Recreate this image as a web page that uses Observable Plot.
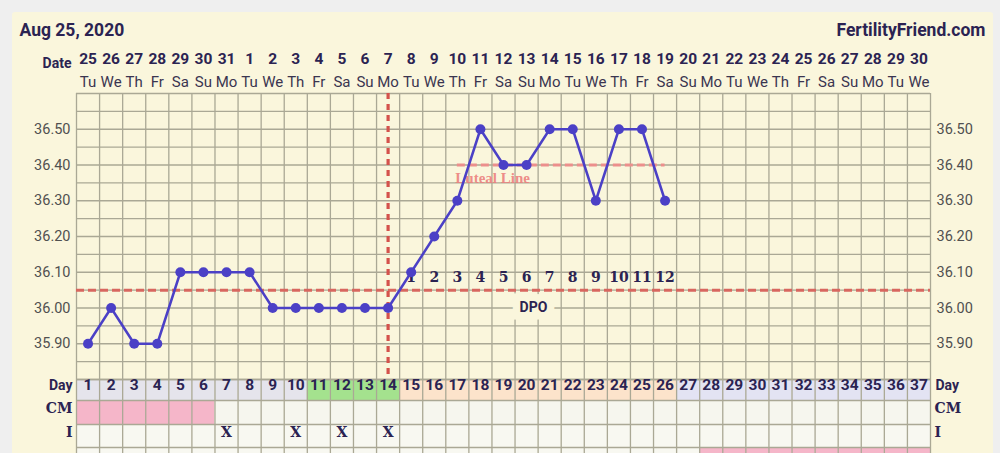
<!DOCTYPE html>
<html>
<head>
<meta charset="utf-8">
<script src="https://cdn.jsdelivr.net/npm/d3@7"></script>
<script src="https://cdn.jsdelivr.net/npm/@observablehq/plot@0.6"></script>
<style>
  html, body { margin: 0; padding: 0; background: #efefef; }
  #wrap { position: relative; width: 1000px; height: 453px; overflow: hidden; }
  #panel { position: absolute; left: 12px; top: 12px; width: 981px; height: 460px; background: #faf6dc; border-radius: 3px; }
  #chart { position: absolute; left: 0; top: 0; }
</style>
</head>
<body>
<div id="wrap"><div id="panel"></div><div id="chart"></div></div>
<script>
// ---- data ----
const title = "Aug 25, 2020";
const brand = "FertilityFriend.com";
const dates = [25,26,27,28,29,30,31,1,2,3,4,5,6,7,8,9,10,11,12,13,14,15,16,17,18,19,20,21,22,23,24,25,26,27,28,29,30];
const weekdayCycle = ["Tu","We","Th","Fr","Sa","Su","Mo"];
const cycleDays = dates.map((d, i) => i + 1);
const temps = [35.90,36.00,35.90,35.90,36.10,36.10,36.10,36.10,36.00,36.00,36.00,36.00,36.00,36.00,36.10,36.20,36.30,36.50,36.40,36.40,36.50,36.50,36.30,36.50,36.50,36.30];
const yTickLabels = ["35.90","36.00","36.10","36.20","36.30","36.40","36.50"];
const coverline = 36.05;
const ovulationDay = 14;
const lutealLevel = 36.40;
const lutealRange = [17, 26];
const fertileDays = [11,12,13,14];
const firstDpoDay = 15;
const lastTempDay = 26;
const cmPinkDays = [1,2,3,4,5,6];
const intercourseDays = [7,10,12,14];
const bottomPinkDays = [28,29,30,31,32,33,34,35,36,37];

// ---- layout / scale helpers ----
const W = 1000, H = 453;
const mL = 76, mR = 70, mT = 93, mB = 74;
const yDom = [35.8, 36.6];
const pxPerDeg = (H - mB - mT) / (yDom[1] - yDom[0]);
const pxToY = px => yDom[0] - (px - (H - mB)) / pxPerDeg;
const rowEdgesPx = [379, 400, 424, 447, 475];
const rowY = rowEdgesPx.map(pxToY);

const navy = "#2b2352";
const sans = "Roboto, 'Noto Sans', sans-serif";
const serif = "'DejaVu Serif', 'Liberation Serif', serif";
const gridColor = "#aaa895";

const tempData = temps.map((t, i) => ({day: i + 1, t}));
const dayPhase = d => fertileDays.includes(d) ? "#a4e28e" : (d >= firstDpoDay && d <= lastTempDay) ? "#fce3cb" : d > lastTempDay ? "#e3e3f3" : "#e5e4ec";
const dpo = tempData.filter(d => d.day >= firstDpoDay).map(d => ({day: d.day, n: d.day - firstDpoDay + 1}));
const dpoMid = d3.mean(dpo, d => d.day) - 0.2;

const cells = [];
for (const d of cycleDays) {
  cells.push({day: d, row: 0, fill: dayPhase(d)});
  cells.push({day: d, row: 1, fill: cmPinkDays.includes(d) ? "#f5b6c9" : "#f6f6ee"});
  cells.push({day: d, row: 2, fill: "#f8f8f1"});
  cells.push({day: d, row: 3, fill: bottomPinkDays.includes(d) ? "#f5b6c9" : "#f8f8f1"});
}

const hLines = d3.range(0, 17).map(i => +(yDom[0] + i * 0.05).toFixed(2));
const vLines = d3.range(0, 38).map(i => i + 0.5);

const labelStyle = (font) => ({fill: navy, fontFamily: font, fontWeight: "bold", fontSize: 14});

const chart = Plot.plot({
  width: W, height: H,
  marginLeft: mL, marginRight: mR, marginTop: mT, marginBottom: mB,
  x: {domain: [0.5, 37.5], axis: null},
  y: {domain: yDom, axis: null},
  style: {background: "transparent", overflow: "visible"},
  marks: [
    // row cells
    Plot.rect(cells, {x1: d => d.day - 0.5, x2: d => d.day + 0.5, y1: d => rowY[d.row], y2: d => rowY[d.row + 1], fill: d => d.fill}),
    // grid
    Plot.ruleY(hLines, {x1: 0.5, x2: 37.5, stroke: gridColor, strokeWidth: 1.3}),
    Plot.ruleY(rowY.slice(0, 4), {x1: 0.5, x2: 37.5, stroke: gridColor, strokeWidth: 1.3}),
    Plot.ruleX(vLines, {y1: yDom[1], y2: rowY[4], stroke: gridColor, strokeWidth: 1.3}),
    // coverline
    Plot.ruleY([coverline], {x1: 0.5, x2: 37.5, stroke: "#d8675f", strokeWidth: 3, strokeDasharray: "8,4"}),
    // ovulation line
    Plot.ruleX([ovulationDay], {y1: yDom[1], y2: rowY[0] + 0.004, stroke: "#d4524c", strokeWidth: 3.2, strokeDasharray: "6,5"}),
    // luteal line
    Plot.ruleY([lutealLevel], {x1: lutealRange[0], x2: lutealRange[1], stroke: "#ec8f8c", strokeWidth: 3, strokeDasharray: "8,4"}),
    Plot.text(["Luteal Line"], {x: lutealRange[0], y: lutealLevel, dx: -2, dy: 13, textAnchor: "start", fill: "#ec7f7c", fillOpacity: 0.9, fontFamily: "'Liberation Serif', serif", fontWeight: "bold", fontSize: 15}),
    // DPO numbers and label
    Plot.text(dpo, {x: "day", y: coverline, dy: -13, text: d => String(d.n), ...labelStyle(serif)}),
    Plot.text(["DPO"], {x: dpoMid, y: coverline, dy: 17, ...labelStyle(sans), stroke: "#faf6dc", strokeWidth: 15, paintOrder: "stroke", strokeLinejoin: "miter"}),
    // temperature line & points
    Plot.line(tempData, {x: "day", y: "t", stroke: "#4b40c6", strokeWidth: 2.5}),
    Plot.dot(tempData, {x: "day", y: "t", r: 5, fill: "#4b40c6"}),
    // y tick labels
    Plot.text(yTickLabels, {x: 0.5, y: d => +d, text: d => d, dx: -6, textAnchor: "end", fill: "#505050", fontFamily: sans, fontSize: 14.5}),
    Plot.text(yTickLabels, {x: 37.5, y: d => +d, text: d => d, dx: 6, textAnchor: "start", fill: "#505050", fontFamily: sans, fontSize: 14.5}),
    // header
    Plot.text([title], {frameAnchor: "top-left", dx: -57, dy: -70, textAnchor: "start", fill: navy, fontFamily: sans, fontWeight: "bold", fontSize: 17.5}),
    Plot.text([brand], {frameAnchor: "top-right", dx: 55, dy: -70, textAnchor: "end", fill: navy, fontFamily: sans, fontWeight: "bold", fontSize: 17.5}),
    Plot.text(["Date"], {x: 0.5, frameAnchor: "top", dx: -5, dy: -35, textAnchor: "end", ...labelStyle(sans)}),
    Plot.text(cycleDays, {x: d => d, frameAnchor: "top", dy: -41, text: d => String(dates[d - 1]), fill: navy, fontFamily: sans, fontWeight: "bold", fontSize: 15.5}),
    Plot.text(cycleDays, {x: d => d, frameAnchor: "top", dy: -17, text: d => weekdayCycle[(d - 1) % 7], fill: "#3a3550", fontFamily: sans, fontSize: 15}),
    // row contents
    Plot.text(cycleDays, {x: d => d, frameAnchor: "bottom", dy: 10.5, text: d => String(d), fill: navy, fontFamily: sans, fontWeight: "bold", fontSize: 15.5}),
    Plot.text(intercourseDays, {x: d => d, frameAnchor: "bottom", dy: 57, text: () => "X", ...labelStyle(serif)}),
    // row labels
    Plot.text(["Day"], {x: 0.5, frameAnchor: "bottom", dx: -4, dy: 10.5, textAnchor: "end", ...labelStyle(sans)}),
    Plot.text(["Day"], {x: 37.5, frameAnchor: "bottom", dx: 5, dy: 10.5, textAnchor: "start", ...labelStyle(sans)}),
    Plot.text(["CM"], {x: 0.5, frameAnchor: "bottom", dx: -4, dy: 33, textAnchor: "end", ...labelStyle(serif)}),
    Plot.text(["CM"], {x: 37.5, frameAnchor: "bottom", dx: 4, dy: 33, textAnchor: "start", ...labelStyle(serif)}),
    Plot.text(["I"], {x: 0.5, frameAnchor: "bottom", dx: -4, dy: 57, textAnchor: "end", ...labelStyle(serif)}),
    Plot.text(["I"], {x: 37.5, frameAnchor: "bottom", dx: 4, dy: 57, textAnchor: "start", ...labelStyle(serif)})
  ]
});
document.getElementById("chart").appendChild(chart);
</script>
</body>
</html>
